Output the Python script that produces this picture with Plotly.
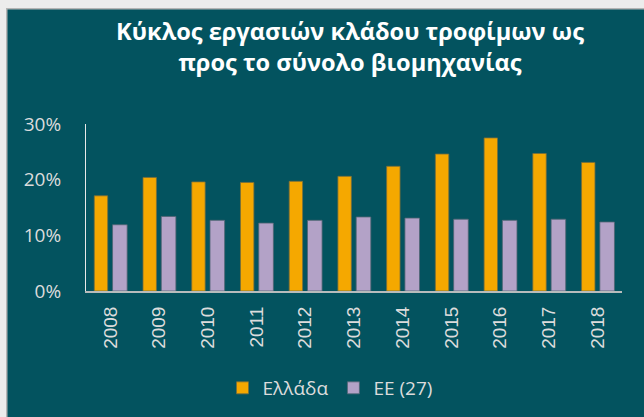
import plotly.graph_objects as go

years = ["2008", "2009", "2010", "2011", "2012", "2013", "2014", "2015", "2016", "2017", "2018"]
greece = [0.171, 0.204, 0.196, 0.195, 0.197, 0.206, 0.224, 0.246, 0.275, 0.247, 0.231]
eu27 = [0.119, 0.134, 0.127, 0.122, 0.127, 0.133, 0.131, 0.129, 0.127, 0.129, 0.124]
series_names = ["Ελλάδα", "ΕΕ (27)"]
title_text = "Κύκλος εργασιών κλάδου τροφίμων ως<br>προς το σύνολο βιομηχανίας"
y_ticks = [0, 0.1, 0.2, 0.3]

W, H = 644, 417
ML, MR, MT, MB = 86, 22, 124, 126
PW, PH = W - ML - MR, H - MT - MB

def px_x(x):
    return (x - ML) / PW

def px_y(y):
    return 1 - (y - MT) / PH

TEAL = "#03535f"
ORANGE = "#f5a800"
LAVENDER = "#b3a2c7"
LIGHT = "#dcdcdc"
PAGE = "#ececec"
EDGE = "#b4b4b4"

fig = go.Figure()
fig.add_trace(go.Bar(
    x=years, y=greece, name=series_names[0],
    marker=dict(color=ORANGE, line=dict(color="rgba(120,110,60,0.8)", width=1)),
    width=0.275, offset=-0.33,
))
fig.add_trace(go.Bar(
    x=years, y=eu27, name=series_names[1],
    marker=dict(color=LAVENDER, line=dict(color="rgba(80,100,115,0.8)", width=1)),
    width=0.30, offset=0.045,
))

# light page margins (top and left) around the teal panel, kept inside the figure
fig.add_shape(type="rect", xref="paper", yref="paper",
              x0=px_x(0), x1=px_x(W), y0=px_y(8), y1=px_y(0),
              fillcolor=PAGE, line=dict(width=0), layer="below")
fig.add_shape(type="rect", xref="paper", yref="paper",
              x0=px_x(0), x1=px_x(6), y0=px_y(H), y1=px_y(0),
              fillcolor=PAGE, line=dict(width=0), layer="below")
fig.add_shape(type="rect", xref="paper", yref="paper",
              x0=px_x(6), x1=px_x(W), y0=px_y(9.5), y1=px_y(8),
              fillcolor=EDGE, line=dict(width=0), layer="below")
fig.add_shape(type="rect", xref="paper", yref="paper",
              x0=px_x(6), x1=px_x(7.5), y0=px_y(H), y1=px_y(8),
              fillcolor=EDGE, line=dict(width=0), layer="below")

fig.update_layout(
    width=W, height=H,
    margin=dict(l=ML, r=MR, t=MT, b=MB, autoexpand=False),
    paper_bgcolor=TEAL, plot_bgcolor=TEAL,
    barmode="group",
    title=dict(text=title_text, x=350 / W, xanchor="center", y=0.903, yanchor="top",
               font=dict(family="Open Sans", size=23.6, color="white", weight="bold")),
    showlegend=True,
    legend=dict(orientation="h", xref="container", yref="container",
                x=330 / W, xanchor="center", y=1 - 388 / H, yanchor="middle",
                font=dict(family="Open Sans", size=19, color=LIGHT), bgcolor="rgba(0,0,0,0)",
                itemwidth=30, traceorder="normal"),
    xaxis=dict(type="category", showgrid=False, showline=True, linecolor="#b8bcbc", linewidth=2,
               tickangle=-90, ticks="", ticklabelstandoff=6, automargin=False,
               tickfont=dict(family="Liberation Sans", size=19, color=LIGHT), fixedrange=True),
    yaxis=dict(range=[0, 0.30], tickvals=y_ticks, tickformat=".0%", showgrid=False, zeroline=False,
               showline=True, linecolor="#e8e8e8", linewidth=1, ticks="", ticklabelstandoff=20,
               automargin=False,
               tickfont=dict(family="Open Sans", size=19, color=LIGHT), fixedrange=True),
)

fig.write_html("out.html")
